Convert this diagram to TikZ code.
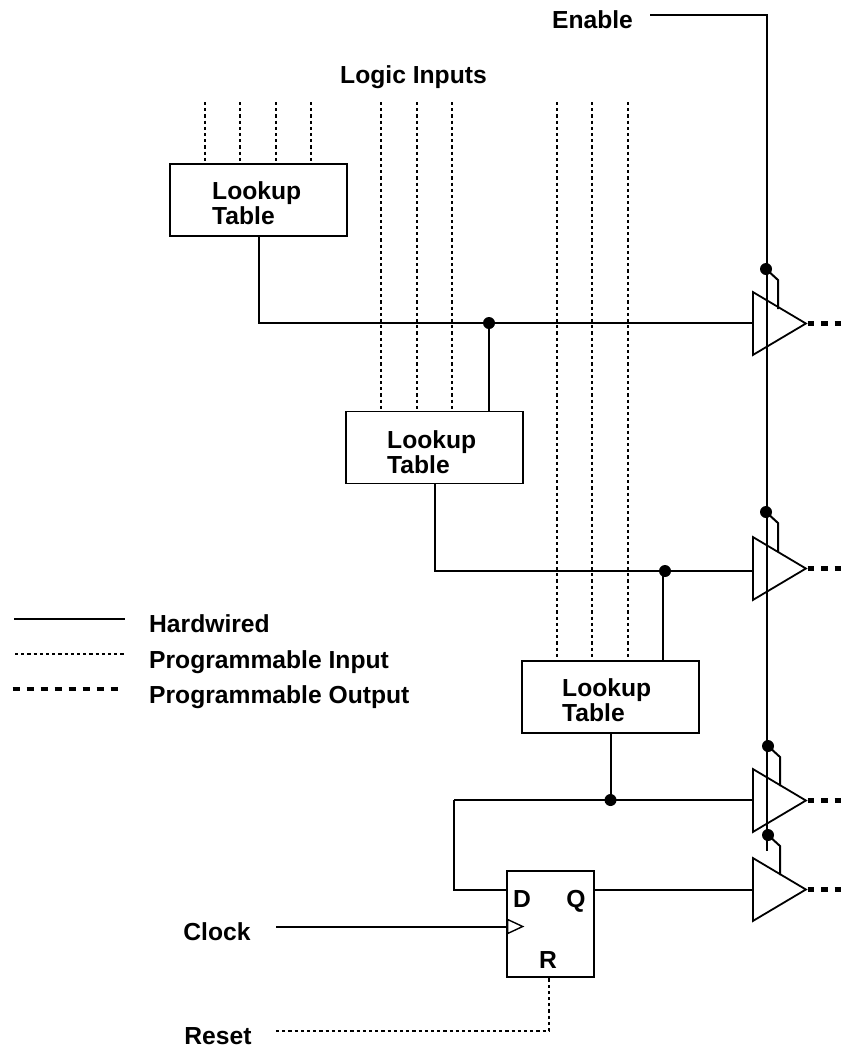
\documentclass[tikz,border=0pt]{standalone}
\usepackage{fontspec}
\setmainfont{Liberation Sans}
\usetikzlibrary{shapes.geometric}

\begin{document}
\begin{tikzpicture}[
      x=1pt, y=-1pt,
      font=\bfseries\fontsize{24.65}{25}\selectfont,
      lut/.style={rectangle, draw=black, line width=1.5pt, fill=white,
                  minimum width=177pt, minimum height=72pt, inner sep=0pt},
      ffbox/.style={rectangle, draw=black, line width=1.5pt, inner sep=0pt,
                    minimum width=87pt, minimum height=106pt},
      buf/.style={isosceles triangle, draw=black, line width=1.8pt,
                  isosceles triangle apex angle=61.4, inner sep=0pt,
                  minimum height=53pt, anchor=lower side},
      clk/.style={isosceles triangle, draw=black, line width=1.4pt,
                  isosceles triangle apex angle=50, inner sep=0pt,
                  minimum height=15pt, anchor=lower side},
      dot/.style={circle, fill=black, inner sep=0pt, minimum size=12pt},
      lbl/.style={inner sep=0pt},
      luttxt/.style={inner sep=0pt, align=left, anchor=west},
      hw/.style={line width=2pt},
      pin/.style={line width=1.05pt, dash pattern=on 3.2pt off 3pt},
      pout/.style={line width=4.8pt, dash pattern=on 6.5pt off 7pt},
    ]
      \useasboundingbox (0,0) rectangle (846,1053);

      % logic blocks
      \node[lut] (lutA) at (258.5,200) {};
      \node[lut] (lutB) at (434.5,447.5) {};
      \node[lut] (lutC) at (610.5,697) {};
      \node[luttxt] (txtA) at (212,203) {Lookup\\Table};
      \node[luttxt] (txtB) at (387,452.5) {Lookup\\Table};
      \node[luttxt] (txtC) at (562,700.5) {Lookup\\Table};
      \node[ffbox] (ff) at (550.5,924) {};
      \node[clk] (ck) at (507,926.5) {};

      \node[lbl, anchor=base] (dpin) at (522,907) {D};
      \node[lbl, anchor=base] (qpin) at (576,907) {Q};
      \node[lbl, anchor=base] (rpin) at (548,968) {R};

      % output buffers
      \node[buf] (bufA) at (752,323.5) {};
      \node[buf] (bufB) at (752,568.5) {};
      \node[buf] (bufC) at (752,800.5) {};
      \node[buf] (bufD) at (752,889.5) {};

      % junctions
      \node[dot] (jA) at (489,323) {};
      \node[dot] (jB) at (665,571) {};
      \node[dot] (jC) at (610.5,800) {};
      \node[dot] (enA) at (766,269) {};
      \node[dot] (enB) at (766,512) {};
      \node[dot] (enC) at (768,746) {};
      \node[dot] (enD) at (768,835) {};

      % labels
      \node[lbl, anchor=base] (ena) at (592.5,28) {Enable};
      \node[lbl, anchor=base] (inp) at (413.5,83) {Logic Inputs};
      \node[lbl, anchor=base] (clock) at (217,940) {Clock};
      \node[lbl, anchor=base] (rst) at (218,1044) {Reset};
      \node[lbl, anchor=base west] (lgA) at (149,632) {Hardwired};
      \node[lbl, anchor=base west] (lgB) at (149,668) {Programmable Input};
      \node[lbl, anchor=base west] (lgC) at (149,703) {Programmable Output};

      \coordinate (enaS) at (650,15);
      \coordinate (busT) at (766.5,15);
      \coordinate (busB) at (766.5,851);
      \coordinate (clkS) at (276,926.5);
      \coordinate (rstS) at (276,1031);
      \coordinate (fbk) at (454,800);

      % hardwired
      \draw[hw] (enaS) -- (busT) -- (busB);
      \draw[hw] (lutA.south) |- (jA.center) -- (jA-|bufA.lower side);
      \draw[hw] (jA.center) -- (jA|-lutB.north);
      \draw[hw] (lutB.south) |- (jB.center) -- (jB-|bufB.lower side);
      \draw[hw] ([xshift=-2pt]jB.center) -- ([xshift=-2pt]jB|-lutC.north);
      \draw[hw] (lutC.south) -- (jC.center);
      \draw[hw] (fbk) -- (fbk-|bufC.lower side);
      \draw[hw] (fbk) |- (ff.west|-bufD.lower side);
      \draw[hw] (clkS) -- (ck.lower side);
      \draw[hw] (ff.east|-bufD.lower side) -- (bufD.lower side);
      \foreach \n in {enA,enB,enC,enD}
        \draw[hw] (\n.center) -- ++(12,11) -- ++(0,29);

      % programmable inputs
      \foreach \x in {205,240,276,311}
        \draw[pin] (\x,102) -- (\x,102 |- lutA.north);
      \foreach \x in {381,417,452}
        \draw[pin] (\x,102) -- (\x,102 |- lutB.north);
      \foreach \x in {557,592,628}
        \draw[pin] (\x,102) -- (\x,102 |- lutC.north);
      \draw[pin] (rstS) -| (549,977 |- ff.south);

      % programmable outputs
      \foreach \n in {bufA,bufB,bufC,bufD}
        \draw[pout] (\n.apex) -- ++(43,0);

      % legend
      \coordinate (lgAs) at (14,619);  \coordinate (lgAe) at (125,619);
      \coordinate (lgBs) at (15,654);  \coordinate (lgBe) at (126,654);
      \coordinate (lgCs) at (12.5,689);  \coordinate (lgCe) at (118,689);
      \draw[hw] (lgAs) -- (lgAe);
      \draw[pin] (lgBs) -- (lgBe);
      \draw[pout, dash pattern=on 7pt off 7pt] (lgCs) -- (lgCe);
    \end{tikzpicture}
\end{document}
